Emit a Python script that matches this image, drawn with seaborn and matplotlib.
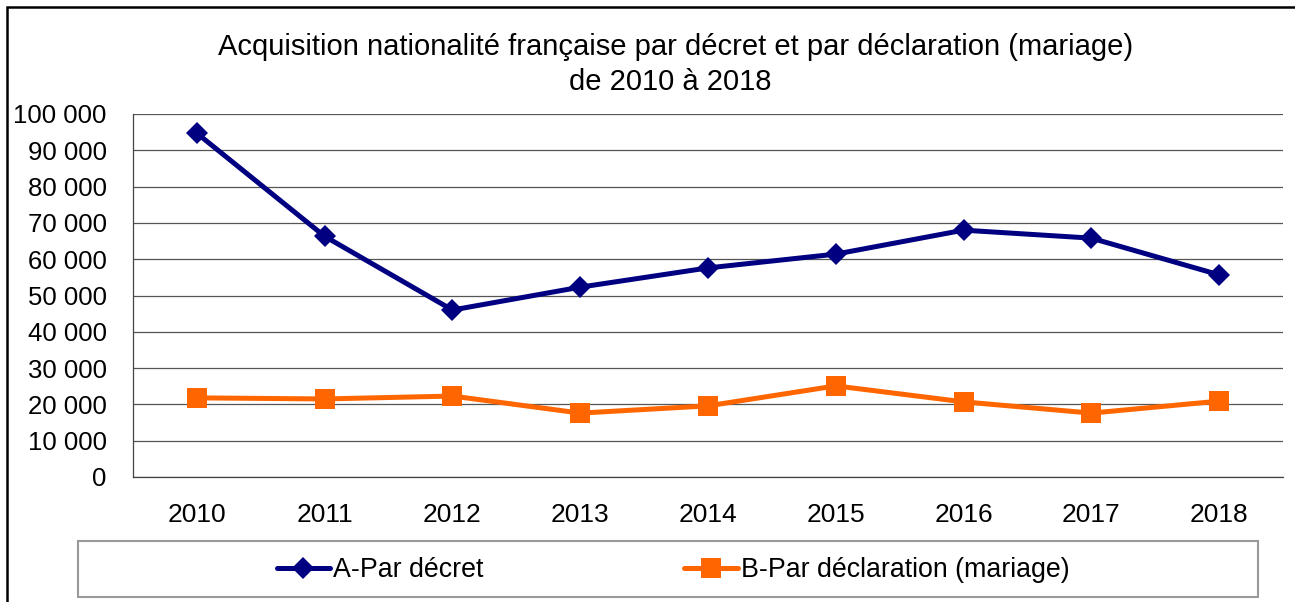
import matplotlib
matplotlib.use("Agg")
import matplotlib.pyplot as plt
import matplotlib.ticker as mticker
from matplotlib.patches import Rectangle
import pandas as pd
import seaborn as sns

years = ["2010", "2011", "2012", "2013", "2014", "2015", "2016", "2017", "2018"]
par_decret = [94700, 66300, 46000, 52300, 57600, 61400, 68000, 65800, 55700]
par_declaration = [21800, 21500, 22300, 17600, 19600, 25100, 20700, 17600, 20900]
series_names = ["A-Par décret", "B-Par déclaration (mariage)"]

df = pd.DataFrame({
    "annee": years * 2,
    "valeur": par_decret + par_declaration,
    "serie": [series_names[0]] * len(years) + [series_names[1]] * len(years),
})

sns.set_style("white")
plt.rcParams["font.family"] = ["Liberation Sans", "DejaVu Sans"]
plt.rcParams["text.color"] = "black"
plt.rcParams["xtick.labelcolor"] = "black"
plt.rcParams["ytick.labelcolor"] = "black"

fig = plt.figure(figsize=(12.95, 6.02), dpi=100)
ax = fig.add_axes([133 / 1295, 1 - 477 / 602, 1150 / 1295, 363 / 602])

palette = {series_names[0]: "#000080", series_names[1]: "#FF6600"}
markers = {series_names[0]: "D", series_names[1]: "s"}
sizes = {series_names[0]: 11, series_names[1]: 14}
sns.lineplot(data=df, x="annee", y="valeur", hue="serie", style="serie",
             palette=palette, markers=markers, dashes=False, linewidth=3.6,
             markeredgewidth=0, sort=False, ax=ax, legend=False)
for line, n in zip(ax.lines, series_names):
    line.set_markersize(sizes[n])

ax.set_xlim(-0.5, len(years) - 0.5)
ax.set_ylim(0, 100000)
ax.yaxis.set_major_locator(mticker.MultipleLocator(10000))
ax.yaxis.set_major_formatter(mticker.FuncFormatter(lambda v, p: f"{int(v):,}".replace(",", " ")))
ax.set_xticks(range(len(years)))
ax.set_xticklabels(years)
ax.set_xticks([i - 0.5 for i in range(len(years) + 1)], minor=True)
ax.tick_params(axis="x", which="major", length=0, pad=19, labelsize=19)
ax.tick_params(axis="x", which="minor", length=8, width=0.8, color="#555555", direction="out")
ax.tick_params(axis="y", length=8, width=0.8, color="#555555", direction="out", labelsize=18.5, pad=11)
ax.grid(axis="y", color="#555555", linewidth=0.9)
ax.set_axisbelow(True)
for s in ["top", "right"]:
    ax.spines[s].set_visible(False)
for s in ["left", "bottom"]:
    ax.spines[s].set_color("#444444")
    ax.spines[s].set_linewidth(0.9)
ax.set_xlabel("")
ax.set_ylabel("")

fig.text(676 / 1295, 1 - 47 / 602, "Acquisition nationalité française par décret et par déclaration (mariage)",
         ha="center", va="center", fontsize=21)
fig.text(670 / 1295, 1 - 82 / 602, "de 2010 à 2018", ha="center", va="center", fontsize=21)

# outer chart frame (only top and left visible in the crop)
fig.patches.append(Rectangle((7 / 1295, -0.1), 1.2, 1 - 7 / 602 + 0.1, transform=fig.transFigure,
                             fill=False, edgecolor="black", linewidth=1.8))
# legend box
fig.patches.append(Rectangle((78 / 1295, 1 - 597 / 602), 1180 / 1295, 56 / 602, transform=fig.transFigure,
                             fill=False, edgecolor="#999999", linewidth=1.5))

handles = [plt.Line2D([], [], color=palette[n], marker=markers[n], linewidth=3.6,
                      markersize=sizes[n], markeredgewidth=0) for n in series_names]
fig.legend(handles, series_names, loc="center", bbox_to_anchor=(673 / 1295, 1 - 570 / 602),
           ncol=2, frameon=False, fontsize=19.3, handlelength=2.0, handletextpad=0.1,
           columnspacing=7.5)

fig.savefig("out.png", dpi=100)
